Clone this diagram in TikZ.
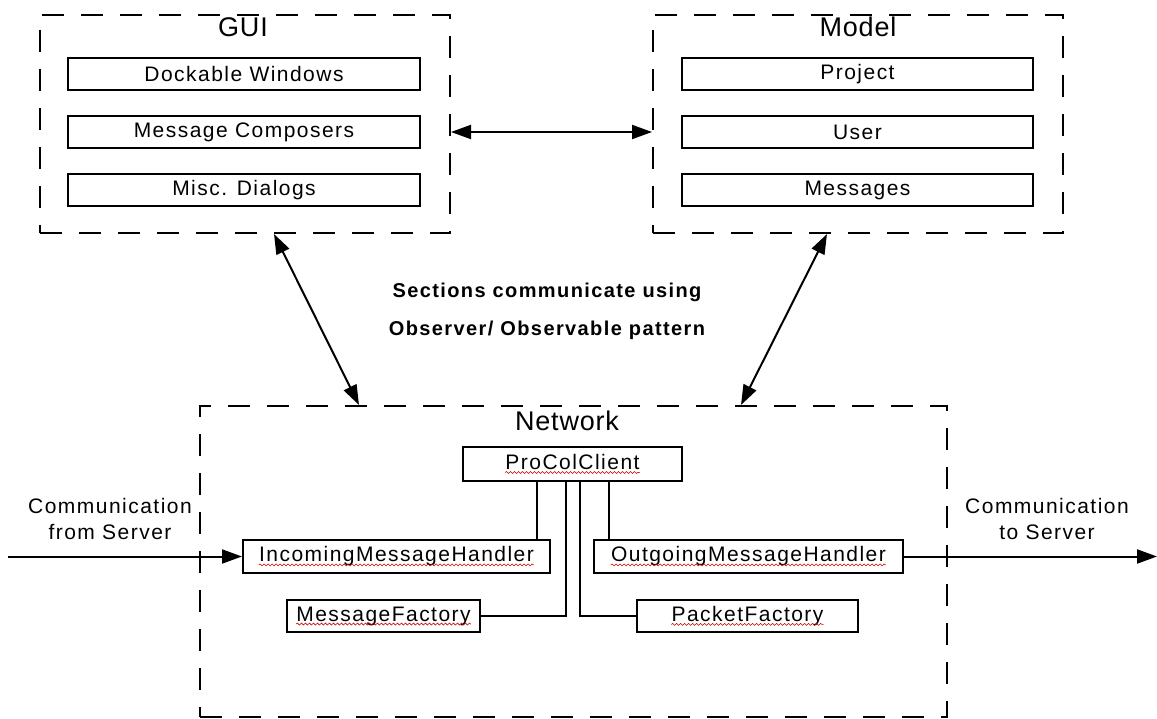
\documentclass[tikz,border=0pt]{standalone}
\usepackage{fontspec}
\setmainfont{Liberation Sans}[LetterSpace=7]
\usepackage{tikz}
\usetikzlibrary{arrows.meta,positioning,decorations.pathmorphing}

\newcommand\partfont{\fontsize{21}{26}\selectfont}
\newcommand\titlefont{\fontsize{27}{30}\selectfont\addfontfeature{LetterSpace=3}}
\newcommand\notefont{\fontsize{20}{38}\selectfont\bfseries}
% red spell-check wave under a word
\newcommand\typo[1]{\tikz[baseline=(w.base)]{\node[inner sep=0pt, draw=none, minimum width=0pt, minimum height=0pt] (w) {#1};
  \draw[red!80!black, line width=0.6pt, decorate, decoration={snake, amplitude=1pt, segment length=4pt}]
    ([yshift=-3pt]w.base west) -- ([yshift=-3pt]w.base east);}}

\begin{document}
\begin{tikzpicture}[x=1pt, y=-1pt, line width=2pt,
    >={Triangle[length=20pt,width=14pt]},
    section/.style={draw, dash pattern=on 22pt off 17pt, line width=2pt, inner sep=0pt},
    part/.style={draw, line width=2pt, font=\partfont, inner sep=0pt},
    heading/.style={font=\titlefont, inner sep=0pt},
    note/.style={font=\partfont, align=center, inner sep=0pt}]

    \useasboundingbox (0,0) rectangle (1157,719);

    % sections
    \node[section, minimum width=410pt, minimum height=218pt] (gui) at (245,124) {};
    \node[section, minimum width=410pt, minimum height=218pt] (model) at (858,124) {};
    \node[section, minimum width=747pt, minimum height=311pt] (net) at (573.5,561.5) {};
    \node[heading] (guiT) at (243,27) {GUI};
    \node[heading] (modelT) at (858,27) {Model};
    \node[heading] (netT) at (567,421) {Network};

    % GUI
    \node[part, minimum width=352pt, minimum height=32pt] (dock) at (244,74) {Dockable Windows};
    \node[part, minimum width=352pt, minimum height=32pt] (compose) at (244,132.5) {Message Composers};
    \node[part, minimum width=352pt, minimum height=32pt] (dialogs) at (244,190.5) {Misc. Dialogs};

    % Model
    \node[part, minimum width=351pt, minimum height=32pt] (project) at (857.5,74) {Project};
    \node[part, minimum width=351pt, minimum height=32pt] (user) at (857.5,132.5) {User};
    \node[part, minimum width=351pt, minimum height=32pt] (messages) at (857.5,190.5) {Messages};

    % Network
    \node[part, minimum width=219pt, minimum height=34pt] (client) at (572.5,464) {\typo{ProColClient}};
    \node[part, minimum width=307pt, minimum height=33pt] (inhandler) at (396.5,556.5) {\typo{IncomingMessageHandler}};
    \node[part, minimum width=309pt, minimum height=33pt] (outhandler) at (748.5,556.5) {\typo{OutgoingMessageHandler}};
    \node[part, minimum width=193pt, minimum height=32pt] (msgfactory) at (383.5,616) {\typo{MessageFactory}};
    \node[part, minimum width=221pt, minimum height=32pt] (pktfactory) at (747.5,616) {\typo{PacketFactory}};

    \coordinate (inlink) at ([xshift=-35.5pt]client.south);
    \coordinate (outlink) at ([xshift=36.5pt]client.south);
    \draw (inlink) -- (inlink |- inhandler.north);
    \draw (outlink) -- (outlink |- outhandler.north);
    \draw ([xshift=-6.5pt]client.south) |- (msgfactory.east);
    \draw ([xshift=7.5pt]client.south) |- (pktfactory.west);

    % sections talk to each other
    \draw[<->] ([yshift=-8pt]gui.east) -- ([yshift=-8pt]model.west);
    \draw[<->] ([xshift=29pt]gui.south) -- ([xshift=-214.5pt]net.north);
    \draw[<->] ([xshift=-31pt]model.south) -- ([xshift=167.5pt]net.north);
    \node[note, font=\notefont] (pattern) at (547,311) {Sections communicate using\\Observer/ Observable pattern};

    % server traffic
    \coordinate (srvin) at (8,556.5);
    \coordinate (srvout) at (1157,556.5);
    \draw[->] (srvin) -- (inhandler.west);
    \draw[->] (outhandler.east) -- (srvout);
    \node[note] (fromsrv) at (110,519) {Communication\\from Server};
    \node[note] (tosrv) at (1047,519) {Communication\\to Server};
\end{tikzpicture}
\end{document}
